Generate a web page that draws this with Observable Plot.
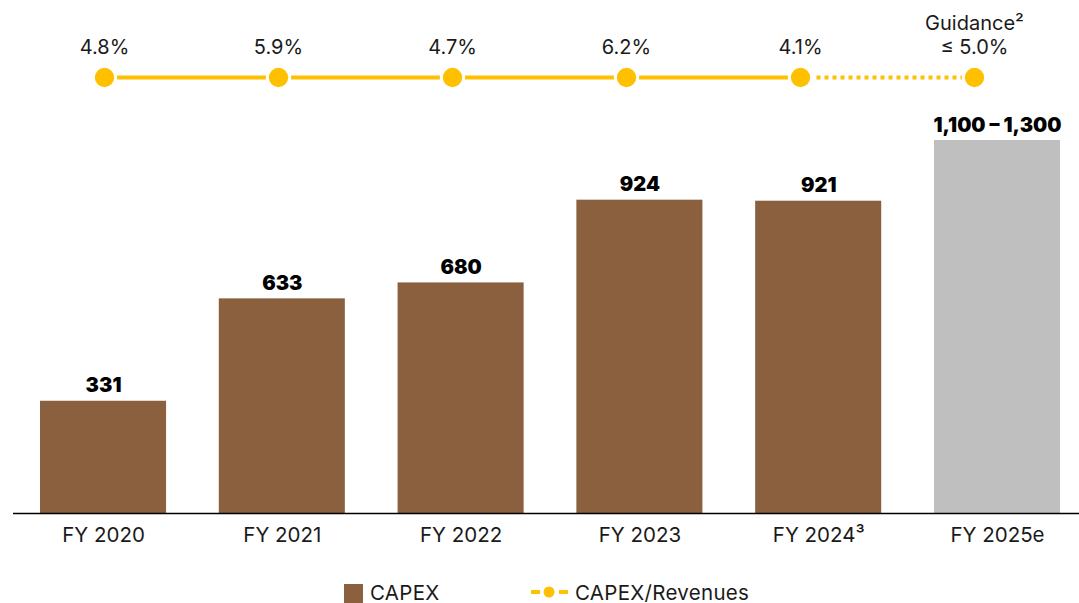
<!DOCTYPE html>
<html>
<head>
<meta charset="utf-8">
<script src="https://cdn.jsdelivr.net/npm/d3@7"></script>
<script src="https://cdn.jsdelivr.net/npm/@observablehq/plot@0.6"></script>
<style>
  html, body { margin: 0; padding: 0; background: #fff; }
  #chart { position: relative; width: 1079px; height: 603px; font-family: Inter, "Noto Sans", sans-serif; color: #1a1a1a; }
  #chart svg { display: block; }
  .legend { position: absolute; left: 0; top: 565px; width: 1079px; height: 38px; font-size: 20.5px; letter-spacing: 0.3px; }
  .legend .sw { position: absolute; left: 344px; top: 19px; width: 19px; height: 19px; background: #8A603E; }
  .legend .t1 { position: absolute; left: 370px; top: 16px; line-height: 24px; }
  .legend .ln { position: absolute; left: 531px; top: 17px; }
  .legend .t2 { position: absolute; left: 575px; top: 16px; line-height: 24px; }
</style>
</head>
<body>
<div id="chart"></div>
<script>
// ---- data ----
const years = ["FY 2020", "FY 2021", "FY 2022", "FY 2023", "FY 2024", "FY 2025e"];
const tickLabels = ["FY 2020", "FY 2021", "FY 2022", "FY 2023", "FY 2024³", "FY 2025e"];
const capex = [331, 633, 680, 924, 921, 1100];
const capexLabels = ["331", "633", "680", "924", "921", "1,100 – 1,300"];
const isGuidance = [false, false, false, false, false, true];
const ratio = [4.8, 5.9, 4.7, 6.2, 4.1, 5.0];
const ratioLabels = ["4.8%", "5.9%", "4.7%", "6.2%", "4.1%", "Guidance²\n≤ 5.0%"];
const legendLabels = ["CAPEX", "CAPEX/Revenues"];

const BROWN = "#8A603E", GREY = "#BFBFBF", GOLD = "#FFC000";

const rows = years.map((y, i) => ({
  year: y, tick: tickLabels[i], capex: capex[i], label: capexLabels[i],
  guidance: isGuidance[i], ratio: ratio[i], rlabel: ratioLabels[i], idx: i
}));

// ---- top row: CAPEX/Revenues ----
const ratioPlot = Plot.plot({
  width: 1079, height: 100,
  marginLeft: 103, marginRight: 104, marginTop: 54, marginBottom: 0,
  x: { type: "point", domain: years, padding: 0, axis: null },
  y: { domain: [-1, 1], axis: null },
  style: { fontFamily: "Inter, 'Noto Sans', sans-serif", fontSize: "20px", color: "#1a1a1a", background: "transparent" },
  marks: [
    Plot.line(rows.filter(d => d.idx <= 4), { x: "year", y: () => 0, stroke: GOLD, strokeWidth: 4 }),
    Plot.line(rows.filter(d => d.idx >= 4), { x: "year", y: () => 0, stroke: GOLD, strokeWidth: 4, strokeDasharray: "4,4", strokeLinecap: "butt" }),
    Plot.dot(rows, { x: "year", y: () => 0, r: 11.2, fill: GOLD, stroke: "white", strokeWidth: 3 }),
    Plot.text(rows, { x: "year", y: () => 0, text: "rlabel", lineAnchor: "bottom", dy: -24, fontSize: 20, lineHeight: 1.2, fill: "#1a1a1a" })
  ]
});

// ---- bars: CAPEX ----
const barPlot = Plot.plot({
  width: 1079, height: 465,
  marginLeft: 40, marginRight: 19, marginTop: 40, marginBottom: 52,
  x: { type: "band", domain: years, paddingInner: 0.295, paddingOuter: 0, label: null, round: false,
       tickFormat: d => tickLabels[years.indexOf(d)], tickSize: 0, tickPadding: 14 },
  y: { domain: [0, 1100], axis: null },
  style: { fontFamily: "Inter, 'Noto Sans', sans-serif", fontSize: "20.5px", color: "#1a1a1a", background: "transparent" },
  marks: [
    Plot.barY(rows, { x: "year", y: "capex", fill: d => d.guidance ? GREY : BROWN }),
    Plot.ruleY([0], { stroke: "#000", strokeWidth: 1.5, insetLeft: -27, insetRight: -19 }),
    Plot.text(rows, { x: "year", y: "capex", text: "label", lineAnchor: "bottom", dy: -9, fontSize: 20, fontWeight: 900, fill: "#000", style: "letter-spacing: 0.4px" })
  ]
});

const chart = document.getElementById("chart");
chart.appendChild(ratioPlot);
chart.appendChild(barPlot);

const legend = document.createElement("div");
legend.className = "legend";
legend.innerHTML = `
  <div class="sw"></div><div class="t1">${legendLabels[0]}</div>
  <svg class="ln" width="38" height="20"><line x1="0" y1="10" x2="37" y2="10" stroke="${GOLD}" stroke-width="4" stroke-dasharray="9,5"/><circle cx="18" cy="10" r="6.5" fill="${GOLD}" stroke="white" stroke-width="2"/></svg>
  <div class="t2">${legendLabels[1]}</div>`;
chart.appendChild(legend);
</script>
</body>
</html>
